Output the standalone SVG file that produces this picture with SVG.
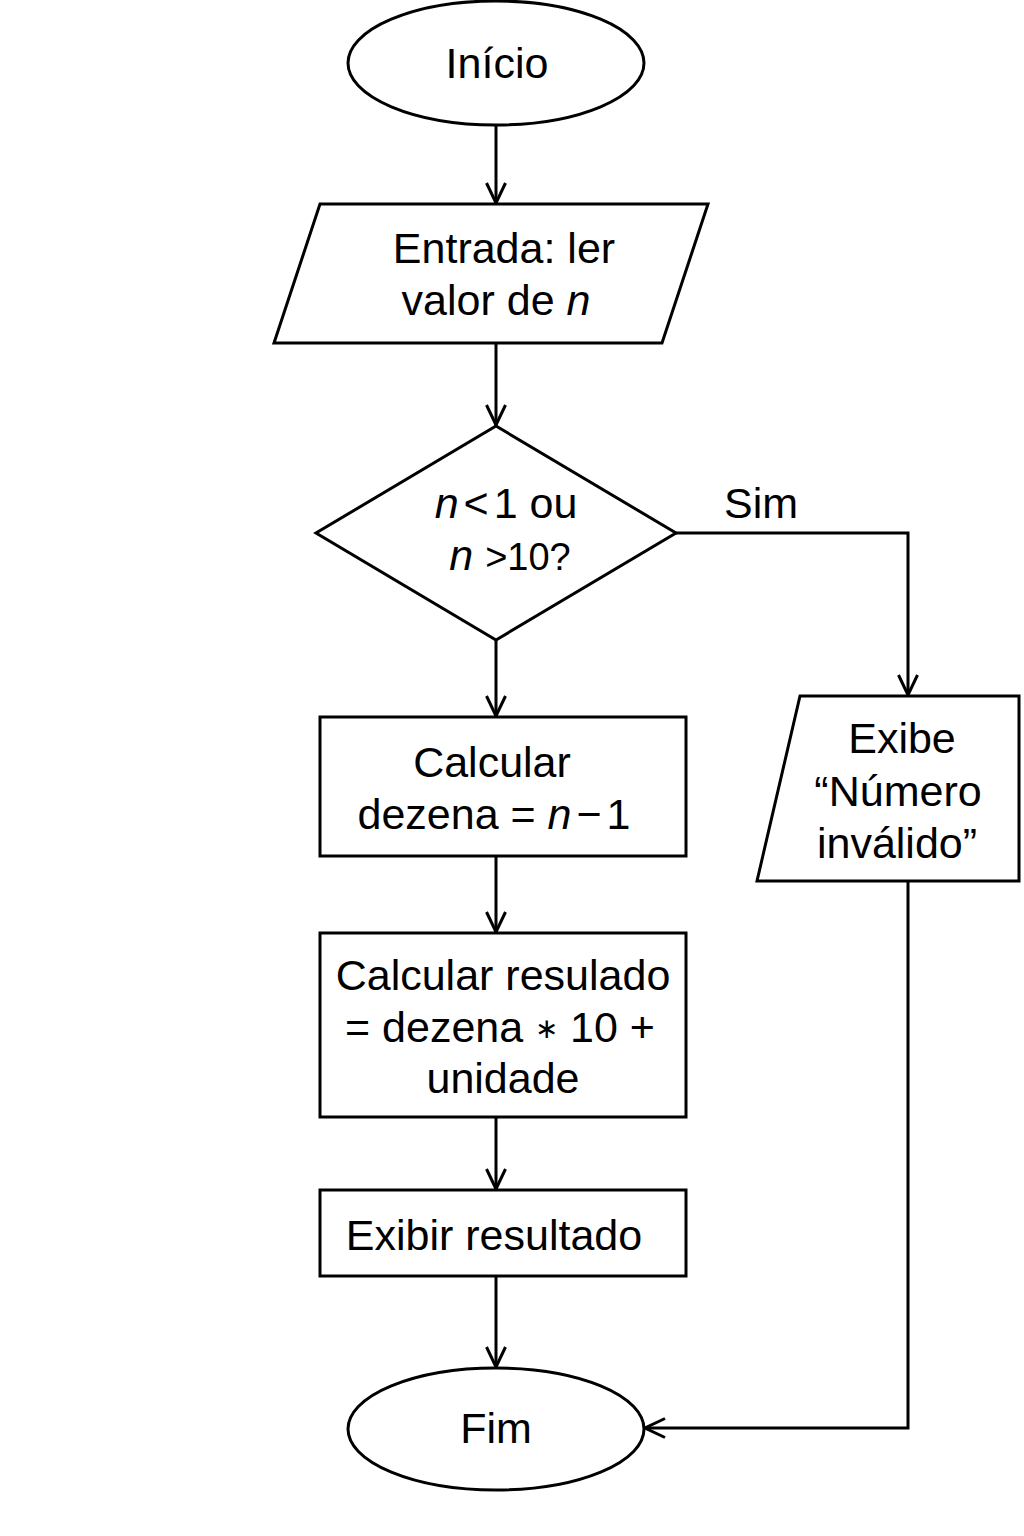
<svg xmlns="http://www.w3.org/2000/svg" width="1024" height="1536" viewBox="0 0 1024 1536">
<defs>
<style>
.s{fill:#fff;stroke:#000;stroke-width:3}
.c{fill:none;stroke:#000;stroke-width:3}
text{font-family:"Liberation Sans",Arial,Helvetica,sans-serif;font-size:43px;fill:#000;text-anchor:middle}
.i{font-style:italic}
</style>
<marker id="a" viewBox="0 0 24 24" refX="22" refY="12" markerWidth="24" markerHeight="24" markerUnits="userSpaceOnUse" orient="auto">
<polyline points="2,2.5 22,12 2,21.5" fill="none" stroke="#000" stroke-width="3"/>
</marker>
</defs>
<rect width="1024" height="1536" fill="#fff"/>
<g id="connectors">
<line class="c" x1="496" y1="125" x2="496" y2="203" marker-end="url(#a)"/>
<line class="c" x1="496" y1="343" x2="496" y2="425" marker-end="url(#a)"/>
<polyline class="c" points="676,533 908,533 908,695" marker-end="url(#a)"/>
<line class="c" x1="496" y1="640" x2="496" y2="716" marker-end="url(#a)"/>
<line class="c" x1="496" y1="856" x2="496" y2="932" marker-end="url(#a)"/>
<line class="c" x1="496" y1="1117" x2="496" y2="1189" marker-end="url(#a)"/>
<line class="c" x1="496" y1="1276" x2="496" y2="1367" marker-end="url(#a)"/>
<polyline class="c" points="908,881 908,1428 645,1428" marker-end="url(#a)"/>
<text x="761" y="518">Sim</text>
</g>
<g id="inicio">
<ellipse class="s" cx="496" cy="63" rx="148" ry="62"/>
<text x="497" y="78">Início</text>
</g>
<g id="entrada">
<polygon class="s" points="320,204 708,204 662,343 274,343"/>
<text x="504" y="263">Entrada: ler</text>
<text x="496" y="315">valor de <tspan class="i">n</tspan></text>
</g>
<g id="decisao">
<polygon class="s" points="496,426 676,533 496,640 316,533"/>
<text x="506" y="518"><tspan class="i">n</tspan><tspan dx="5">&lt;</tspan><tspan dx="5">1 ou</tspan></text>
<text x="510" y="570"><tspan class="i">n</tspan> <tspan font-size="38">&gt;10?</tspan></text>
</g>
<g id="dezena">
<rect class="s" x="320" y="717" width="366" height="139"/>
<text x="492" y="777">Calcular</text>
<text x="494" y="829">dezena = <tspan class="i">n</tspan><tspan dx="5">−</tspan><tspan dx="5">1</tspan></text>
</g>
<g id="resultado">
<rect class="s" x="320" y="933" width="366" height="184"/>
<text x="503" y="990">Calcular resulado</text>
<text x="500" y="1042">= dezena <tspan font-size="28" dy="-4">∗</tspan><tspan dy="4"> 10 +</tspan></text>
<text x="503" y="1093">unidade</text>
</g>
<g id="exibir">
<rect class="s" x="320" y="1190" width="366" height="86"/>
<text x="494" y="1250">Exibir resultado</text>
</g>
<g id="invalido">
<polygon class="s" points="800,696 1019,696 1019,881 757,881"/>
<text x="902" y="753">Exibe</text>
<text x="898" y="806">“Número</text>
<text x="897" y="858">inválido”</text>
</g>
<g id="fim">
<ellipse class="s" cx="496" cy="1429" rx="148" ry="61"/>
<text x="496" y="1443">Fim</text>
</g>
</svg>
